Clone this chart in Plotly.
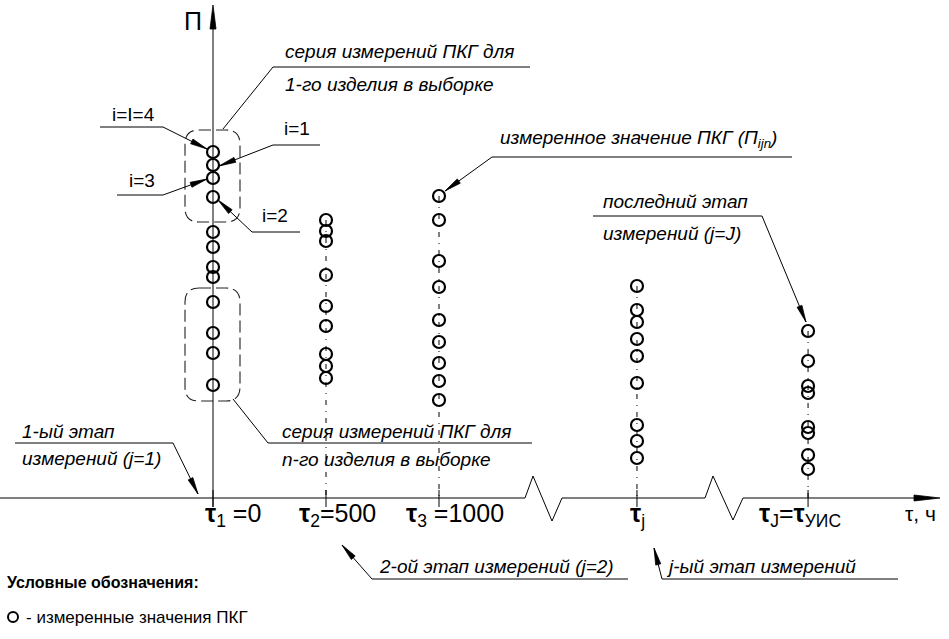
import math
import plotly.graph_objects as go

# ---------------- data ----------------
stage_names = ["τ1", "τ2", "τ3", "τj", "τJ"]
stage_labels = ["<b>τ</b><sub>1</sub> =0", "<b>τ</b><sub>2</sub>=500", "<b>τ</b><sub>3</sub> =1000",
                "<b>τ</b><sub>j</sub>", "<b>τ</b><sub>J</sub>=<b>τ</b><sub>УИС</sub>"]
stage_t = [0, 500, 1000, 1876, 2633]          # schematic hours on the broken time axis
P_stage1 = [346, 333, 320, 301, 266, 251, 231, 221, 196, 165, 145, 113]
P_stage2 = [278, 267, 257, 223, 192, 172, 144, 132, 120]
P_stage3 = [302, 278, 237, 211, 178, 156, 135, 117, 98]
P_stagej = [212, 188, 176, 159, 142, 115, 73, 57, 40]
P_stageJ = [167, 137, 112, 105, 71, 65, 43, 29]
P_series = [P_stage1, P_stage2, P_stage3, P_stagej, P_stageJ]

# ---------------- frame helpers (layout geometry in page pixels) ----------------
W, H = 949, 639
AX_PX, AY_PX = 213, 498
HPP = 500 / 113.0
LABEL_DX = [-10, -29, -35, -9, -51]   # left edge of each stage label relative to its tick (px)


def X(px):
    return (px - AX_PX) * HPP


def Y(py):
    return AY_PX - py


FONT = "Liberation Sans, Arial, sans-serif"
shapes = []
annotations = []


def seg(p0, p1, width=1.0, dash=None, color="black"):
    shapes.append(dict(type="line", xref="x", yref="y", x0=X(p0[0]), y0=Y(p0[1]),
                       x1=X(p1[0]), y1=Y(p1[1]),
                       line=dict(color=color, width=width, dash=dash)))


def poly(points, width=1.0, fill=None, close=False, dash=None):
    d = "M " + " L ".join(f"{X(a):.3f},{Y(b):.3f}" for a, b in points)
    if close:
        d += " Z"
    s = dict(type="path", xref="x", yref="y", path=d,
             line=dict(color="black", width=width, dash=dash))
    if fill:
        s["fillcolor"] = fill
    shapes.append(s)


def arrowhead(frm, tip, L=17, w=2.6):
    dx, dy = tip[0] - frm[0], tip[1] - frm[1]
    n = math.hypot(dx, dy)
    ux, uy = dx / n, dy / n
    bx, by = tip[0] - ux * L, tip[1] - uy * L
    px, py = -uy * w, ux * w
    poly([tip, (bx + px, by + py), (bx - px, by - py)], width=0.8, fill="black", close=True)


def arrow(frm, tip):
    seg(frm, tip)
    arrowhead(frm, tip)


def rbox(x0, y0, x1, y1, r):
    d = (f"M {X(x0 + r)},{Y(y0)} L {X(x1 - r)},{Y(y0)} Q {X(x1)},{Y(y0)} {X(x1)},{Y(y0 + r)} "
         f"L {X(x1)},{Y(y1 - r)} Q {X(x1)},{Y(y1)} {X(x1 - r)},{Y(y1)} "
         f"L {X(x0 + r)},{Y(y1)} Q {X(x0)},{Y(y1)} {X(x0)},{Y(y1 - r)} "
         f"L {X(x0)},{Y(y0 + r)} Q {X(x0)},{Y(y0)} {X(x0 + r)},{Y(y0)} Z")
    shapes.append(dict(type="path", xref="x", yref="y", path=d,
                       line=dict(color="#222222", width=1.1, dash="12px,5px")))


def text(px, py, s, size=18, anchor="left", color="black"):
    annotations.append(dict(x=X(px), y=Y(py), xref="x", yref="y", text=s, showarrow=False,
                            xanchor=anchor, yanchor="middle",
                            font=dict(family=FONT, size=size, color=color)))


IT = 19  # italic callout size

# ---------------- axes ----------------
seg((AX_PX, 507), (AX_PX, 25))
arrowhead((AX_PX, 40), (AX_PX, 5), L=24, w=3)
text(193, 21, "П", size=25, anchor="center")

poly([(0, 498), (525, 498), (533, 476), (552, 521), (562, 498), (705, 498), (713, 476),
      (733, 520), (743, 498), (925, 498)])
arrowhead((900, 498), (940, 498), L=26, w=3)
text(903, 513, "τ, ч", size=21)

fig = go.Figure()

# ticks and dash-dot guides
for k, t in enumerate(stage_t):
    shapes.append(dict(type="line", xref="x", yref="y", x0=t, x1=t, y0=8, y1=-9,
                       line=dict(color="black", width=1)))
    if k > 0:
        fig.add_trace(go.Scatter(x=[t, t], y=[max(P_series[k]), 0], mode="lines",
                                 line=dict(color="black", width=1, dash="5px,6px,1px,6px"),
                                 hoverinfo="skip"))
    text(AX_PX + t / HPP + LABEL_DX[k], 515, stage_labels[k], size=25, anchor="left")

# measurement circles
for k, t in enumerate(stage_t):
    fig.add_trace(go.Scatter(x=[t] * len(P_series[k]), y=P_series[k], mode="markers",
                             name=stage_names[k],
                             marker=dict(symbol="circle-open", size=12, color="black",
                                         line=dict(width=2.2, color="black"))))

# dashed groups on stage 1
rbox(185, 130, 240, 222, 14)
rbox(185, 288, 240, 401, 14)

# ---------------- callouts ----------------
text(283, 51, "<i>серия измерений ПКГ для</i>", size=IT)
text(283, 84, "<i>1-го изделия в выборке</i>", size=IT)
seg((273, 67), (530, 67))
seg((273, 67), (223, 129))

text(110, 114, "i=I=4", size=19)
seg((100, 127), (163, 127))
arrow((163, 127), (207, 149))

text(282, 128, "i=1", size=19)
seg((273, 145), (320, 145))
arrow((273, 145), (219, 166))

text(127, 180, "i=3", size=19)
seg((117, 195), (163, 195))
arrow((163, 195), (207, 179))

text(260, 215, "i=2", size=19)
seg((252, 232), (300, 232))
arrow((252, 232), (218, 200))

text(498, 139, "<i>измеренное значение ПКГ (П<sub>ijn</sub>)</i>", size=IT)
seg((492, 157), (792, 157))
arrow((492, 157), (445, 191))

text(601, 201, "<i>последний этап</i>", size=IT)
text(601, 233, "<i>измерений (j=J)</i>", size=IT)
seg((593, 216), (762, 216))
arrow((762, 216), (806, 322))

text(20, 431, "<i>1-ый этап</i>", size=IT)
text(20, 458, "<i>измерений (j=1)</i>", size=IT)
seg((15, 443), (173, 443))
arrow((173, 443), (198, 494))

text(280, 431, "<i>серия измерений ПКГ для</i>", size=IT)
text(280, 459, "<i>n-го изделия в выборке</i>", size=IT)
seg((268, 443), (532, 443))
seg((268, 443), (233, 399))

text(377, 566, "<i>2-ой этап измерений (j=2)</i>", size=IT)
seg((372, 579), (628, 579))
arrow((372, 579), (342, 545))

text(664, 566, "<i>j-ый этап измерений</i>", size=IT)
seg((662, 579), (898, 579))
arrow((662, 579), (654, 548))

# ---------------- legend ----------------
text(5, 582, "<b>Условные обозначения:</b>", size=16)
fig.add_trace(go.Scatter(x=[X(13)], y=[Y(617)], mode="markers", name="legend",
                         marker=dict(symbol="circle-open", size=10, color="black",
                                     line=dict(width=2, color="black")), hoverinfo="skip"))
text(24, 617, "- измеренные значения ПКГ", size=17)

fig.update_layout(
    width=W, height=H, autosize=False,
    margin=dict(l=0, r=0, t=0, b=0, pad=0),
    paper_bgcolor="white", plot_bgcolor="white",
    showlegend=False,
    xaxis=dict(range=[X(0), X(W)], visible=False, fixedrange=True),
    yaxis=dict(range=[Y(H), Y(0)], visible=False, fixedrange=True),
    shapes=shapes, annotations=annotations,
    font=dict(family=FONT, color="black"),
)

fig.write_html("out.html", config={"displayModeBar": False, "staticPlot": True},
               post_script="document.body.style.margin='0';document.body.style.overflow='hidden';")
